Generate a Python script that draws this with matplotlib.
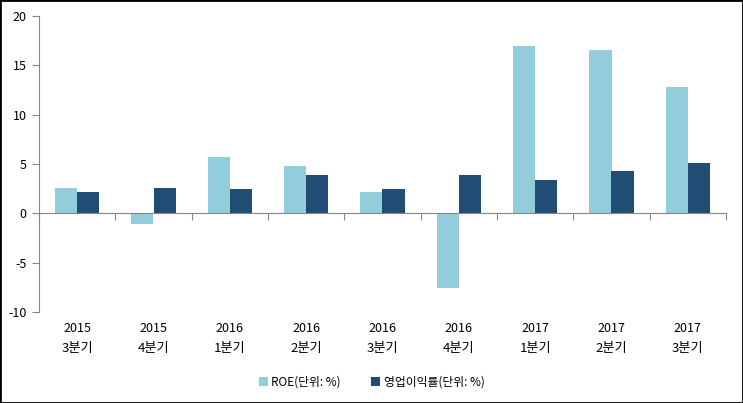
import numpy as np
import matplotlib.pyplot as plt
from matplotlib.patches import Rectangle

plt.rcParams['font.family'] = ['Noto Sans CJK KR', 'DejaVu Sans']
plt.rcParams['axes.unicode_minus'] = False

# 데이터
years = ['2015', '2015', '2016', '2016', '2016', '2016', '2017', '2017', '2017']
quarters = ['3분기', '4분기', '1분기', '2분기', '3분기', '4분기', '1분기', '2분기', '3분기']
roe = [2.6, -1.1, 5.7, 4.8, 2.2, -7.6, 17.0, 16.6, 12.8]
op_margin = [2.2, 2.6, 2.5, 3.9, 2.5, 3.9, 3.4, 4.3, 5.1]

light = '#92CDDC'
dark = '#214C74'
axis_grey = '#868686'

fig = plt.figure(figsize=(7.43, 4.03), dpi=100)
ax = fig.add_axes([39 / 743, 1 - 312 / 403, (726 - 39) / 743, (312 - 16) / 403])

x = np.arange(len(roe))
w = 0.29
ax.bar(x - w / 2, roe, w, color=light, label='ROE(단위: %)')
ax.bar(x + w / 2, op_margin, w, color=dark, label='영업이익률(단위: %)')

ax.set_xlim(-0.5, len(roe) - 0.5)
ax.set_ylim(-10, 20)
ax.set_yticks([-10, -5, 0, 5, 10, 15, 20])
ax.tick_params(axis='y', direction='out', length=5, color=axis_grey, labelsize=9, pad=4)

# x 축은 0 위치에 그리고, 눈금은 범주 경계에
ax.spines['bottom'].set_position(('data', 0))
for s in ['top', 'right']:
    ax.spines[s].set_visible(False)
ax.spines['left'].set_color(axis_grey)
ax.spines['bottom'].set_color(axis_grey)
ax.set_xticks(np.arange(len(roe) + 1) - 0.5)
ax.set_xticklabels([])
ax.tick_params(axis='x', direction='out', length=5, color=axis_grey)

for i in range(len(roe)):
    ax.text(i, -11.0, years[i], ha='center', va='top', fontsize=9,
            transform=ax.transData)
    ax.text(i, -13.0, quarters[i], ha='center', va='top', fontsize=9.5,
            transform=ax.transData)

fig.legend(loc='center', bbox_to_anchor=(0.5, 1 - 382 / 403), ncol=2, frameon=False,
           fontsize=8.5, handlelength=0.8, handleheight=0.8, handletextpad=0.3,
           columnspacing=2.5)

fig.patches.append(Rectangle((0, 0), 1, 1, transform=fig.transFigure, fill=False,
                             edgecolor='black', linewidth=2))

plt.savefig('out.png', dpi=100)
